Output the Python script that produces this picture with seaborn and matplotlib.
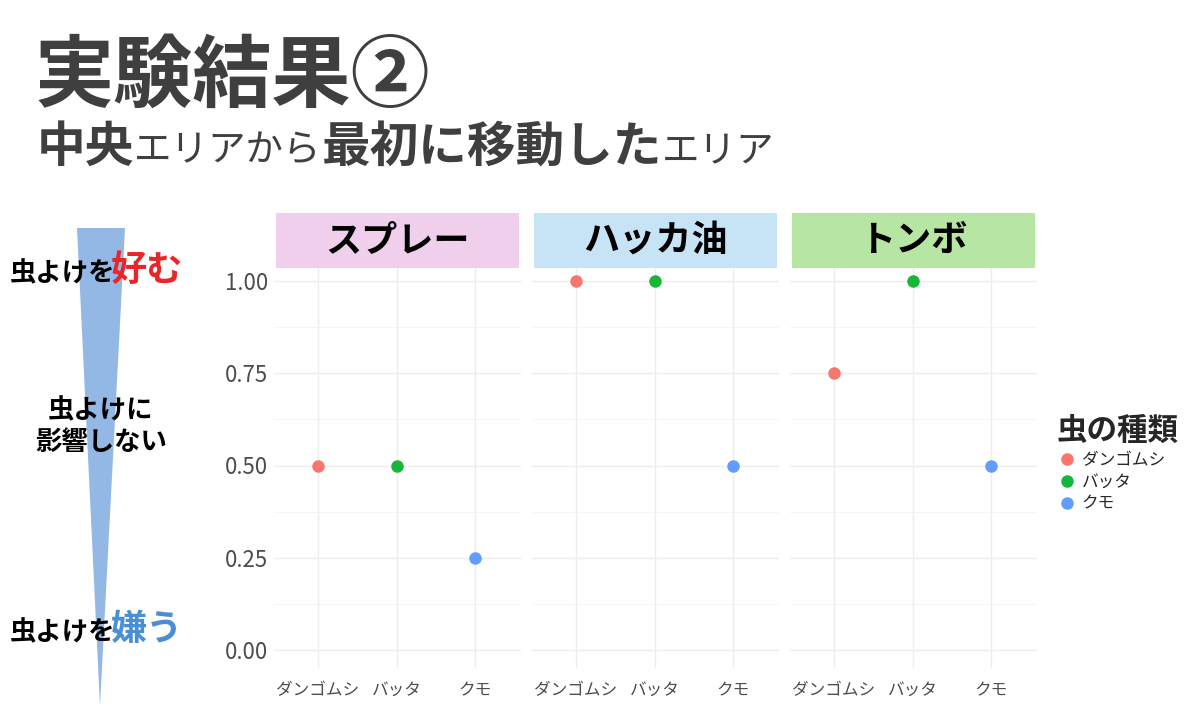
""" Experiment result 2: first area moved to from the centre area. """

import numpy as np
import pandas as pd
import seaborn as sns
from matplotlib import pyplot as plt
from matplotlib.patches import Polygon
from matplotlib.lines import Line2D

sns.set_style('white')
plt.rcParams['font.family'] = ['Noto Sans CJK JP', 'DejaVu Sans']

########
# Data #
########
insects = ['ダンゴムシ', 'バッタ', 'クモ']
repellents = ['スプレー', 'ハッカ油', 'トンボ']
spray = [0.50, 0.50, 0.25]
hakka = [1.00, 1.00, 0.50]
tonbo = [0.75, 1.00, 0.50]
y_ticks = [0.00, 0.25, 0.50, 0.75, 1.00]

strip_colors = ['#EFCFEB', '#C6E4F5', '#B6E5A4']
insect_colors = ['#F8766D', '#17B53A', '#619CFF']

frames = []
for rep, vals in zip(repellents, [spray, hakka, tonbo]):
    frames.append(pd.DataFrame({'repellent': rep, 'insect': insects, 'ratio': vals}))
data = pd.concat(frames, ignore_index=True)

##########
# Figure #
##########
W, H = 1200, 708
fig = plt.figure(figsize=(W / 100, H / 100), dpi=100)
renderer = fig.canvas.get_renderer()


def fx(px):
    return px / W


def fy(px):
    return 1 - px / H


def seq_text(x_px, y_px, pieces, gap=0):
    # draw text pieces one after another on a common baseline
    x = fx(x_px)
    for s, kw in pieces:
        t = fig.text(x, fy(y_px), s, va='baseline', ha='left', **kw)
        bb = t.get_window_extent(renderer)
        x = (bb.x1 + gap) / W
    return x


# Title
dark = '#3F3F3F'
fig.text(fx(35), fy(101), '実験結果②', fontsize=57, fontweight='bold',
         color=dark, va='baseline')
big = dict(fontsize=35, fontweight='bold', color=dark)
small = dict(fontsize=27, color=dark)
seq_text(37, 162, [('中央', big), ('エリアから', small),
                   ('最初に移動した', big), ('エリア', small)])

# Left wedge and labels
wedge = Polygon([(fx(77), fy(228)), (fx(125), fy(228)), (fx(100), fy(706))],
                closed=True, transform=fig.transFigure, facecolor='#94B8E6',
                edgecolor='none', zorder=0)
fig.patches.append(wedge)

lab = dict(fontsize=19, fontweight='bold', color='black')
seq_text(10, 281, [('虫よけを', lab),
                   ('好む', dict(fontsize=26, fontweight='bold', color='#E8262A'))],
         gap=-5)
fig.text(fx(101), fy(411), '虫よけに', ha='center', va='center', **lab)
fig.text(fx(101), fy(442), '影響しない', ha='center', va='center', **lab)
seq_text(10, 640, [('虫よけを', lab),
                   ('嫌う', dict(fontsize=26, fontweight='bold', color='#4A8FD3'))],
         gap=-5)

# Panels
step = 78.5
panel_lefts = [274, 532, 790]
x_first = [318, 576, 834]
top_px, bottom_px = 268, 668
y0_px, y1_px = 650, 281
unit = y0_px - y1_px
ylim = (-(bottom_px - y0_px) / unit, (y0_px - top_px) / unit)
panel_w = 247

for i, rep in enumerate(repellents):
    left = panel_lefts[i]
    xlo = -(x_first[i] - left) / step
    xhi = xlo + panel_w / step
    ax = fig.add_axes([fx(left), fy(bottom_px), panel_w / W, (bottom_px - top_px) / H])
    sub = data[data['repellent'] == rep]
    sns.stripplot(data=sub, x='insect', y='ratio', hue='insect', order=insects,
                  hue_order=insects, palette=insect_colors, jitter=False,
                  size=9, legend=False, ax=ax, zorder=3, linewidth=0)
    ax.set_xlim(xlo, xhi)
    ax.set_ylim(*ylim)
    ax.set_yticks(y_ticks)
    ax.set_yticks(np.arange(0.125, 1.0, 0.25), minor=True)
    ax.grid(which='major', color='#EDEDED', lw=1.0, zorder=0)
    ax.grid(which='minor', axis='y', color='#F4F4F4', lw=0.6, zorder=0)
    ax.set_axisbelow(True)
    for sp in ax.spines.values():
        sp.set_visible(False)
    ax.set_xlabel('')
    ax.set_ylabel('')
    ax.tick_params(axis='y', length=0, labelsize=16, colors='#4D4D4D', pad=4)
    ax.tick_params(axis='x', length=0, labelsize=12, colors='#4D4D4D', pad=10)
    if i == 0:
        ax.set_yticklabels([f'{v:.2f}' for v in y_ticks])
    else:
        ax.set_yticklabels([])

    # strip
    sax = fig.add_axes([fx(left + 2), fy(268), (panel_w - 4) / W, 55 / H])
    sax.set_facecolor(strip_colors[i])
    sax.set_xticks([])
    sax.set_yticks([])
    for sp in sax.spines.values():
        sp.set_visible(False)
    sax.text(0.5, 0.5, rep, ha='center', va='center', fontsize=26,
             fontweight='bold', color='black', transform=sax.transAxes)

# Legend
handles = [Line2D([], [], marker='o', ls='none', markersize=9,
                  markerfacecolor=c, markeredgecolor='none') for c in insect_colors]
leg = fig.legend(handles, insects, title='虫の種類', loc='upper left',
                 bbox_to_anchor=(fx(1050), fy(408)), frameon=False,
                 fontsize=12, title_fontproperties={'weight': 'bold', 'size': 22},
                 handletextpad=0.3, labelspacing=0.3, handlelength=1.2,
                 borderaxespad=0, alignment='left')

fig.savefig('out.png', dpi=100)
